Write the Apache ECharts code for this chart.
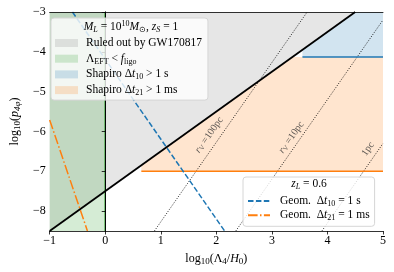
<!DOCTYPE html>
<html><head><meta charset="utf-8">
<script src="https://cdn.jsdelivr.net/npm/echarts@6/dist/echarts.min.js"></script>
<style>html,body{margin:0;padding:0;background:#fff}#c{width:394px;height:272px}</style>
</head><body><div id="c"></div>
<script>
// ---- data ----
const xTicks = [-1, 0, 1, 2, 3, 4, 5];
const yTicks = [-8, -7, -6, -5, -4, -3];
const gwRegion = [[-1, -8.5], [4.5, -3], [-1, -3]];
const eftRegion = [[-1, -8.5], [0, -8.5], [0, -3], [-1, -3]];
const shapiro10Region = [[3.55, -4.13], [5, -4.13], [5, -3], [4.5, -3], [3.55, -3.95]];
const shapiro21Region = [[0.65, -7], [5, -7], [5, -4.13], [3.37, -4.13], [0.65, -6.85]];
const gwLine = [[-1, -8.5], [4.5, -3]];
const eftLine = [[0, -8.5], [0, -3]];
const shapiro10Line = [[3.55, -4.13], [5, -4.13]];
const shapiro21Line = [[0.65, -7], [5, -7]];
const geom10Line = [[-0.59, -3], [2.15, -8.5]];
const geom21Line = [[-1, -5.71], [-0.32, -8.5]];
const rv100Line = [[0.885, -8.5], [3.635, -3]];
const rv10Line = [[2.35, -8.5], [5, -3.2]];
const rv1Line = [[3.9, -8.5], [5, -6.3]];
const rvLabelPos = [[1.87, -6.09], [3.35, -6.15], [4.73, -6.44]];
const rvLabelText = ['{i|r}{sub|V} =100pc', '{i|r}{sub|V} =10pc', '1pc'];

// ---- styles ----
const FF = 'Liberation Serif';
function richSet(fs, lh) {
  const s = Math.round(fs * 0.72);
  return {
    i: {fontFamily: FF, fontStyle: 'italic', fontSize: fs, lineHeight: lh},
    sub: {fontFamily: FF, fontSize: s, lineHeight: s, verticalAlign: 'bottom'},
    isub: {fontFamily: FF, fontStyle: 'italic', fontSize: s, lineHeight: s, verticalAlign: 'bottom'},
    sup: {fontFamily: FF, fontSize: s, lineHeight: s, verticalAlign: 'top'}
  };
}
const names = {
  gw: 'Ruled out by GW170817',
  eft: 'Λ_EFT < f_ligo',
  s10: 'Shapiro Δt_10 > 1 s',
  s21: 'Shapiro Δt_21 > 1 ms',
  g10: 'Geom. Δt_10 = 1 s',
  g21: 'Geom. Δt_21 = 1 ms'
};
const richLabels = {};
richLabels[names.gw] = 'Ruled out by GW170817';
richLabels[names.eft] = 'Λ{sub|EFT} < {i|f}{sub|ligo}';
richLabels[names.s10] = 'Shapiro Δ{i|t}{sub|10} > 1 s';
richLabels[names.s21] = 'Shapiro Δ{i|t}{sub|21} > 1 ms';
richLabels[names.g10] = 'Geom.  Δ{i|t}{sub|10} = 1 s';
richLabels[names.g21] = 'Geom.  Δ{i|t}{sub|21} = 1 ms';

const C = {
  gray: 'rgba(128,128,128,0.2)', green: 'rgba(44,160,44,0.2)',
  blue: 'rgba(31,119,180,0.2)', orange: 'rgba(255,127,14,0.2)'
};

function polySeries(name, pts, color) {
  return {
    name, type: 'custom', coordinateSystem: 'cartesian2d', data: pts, encode: {x: 0, y: 1},
    z: 1, silent: true, itemStyle: {color},
    renderItem: (params, api) => {
      if (params.dataIndex !== 0) return null;
      return {type: 'polygon', shape: {points: pts.map(p => api.coord(p))}, style: {fill: color}};
    }
  };
}
function lineSeries(name, pts, color, width, type, z) {
  return {
    name, type: 'line', data: pts, symbol: 'none', showSymbol: false, silent: true,
    lineStyle: {color, width, type}, itemStyle: {color}, z: z || 3
  };
}
const fmt = v => (v < 0 ? '\u2212' : '') + Math.abs(v);

const chart = echarts.init(document.getElementById('c'), null, {renderer: 'canvas'});
const option = {
  animation: false,
  backgroundColor: '#fff',
  grid: {left: 45, top: 12, right: 11, bottom: 41},
  xAxis: [{
    type: 'value', min: -1, max: 5, interval: 1,
    axisLine: {lineStyle: {color: '#000', width: 0.8}}, z: 10,
    axisTick: {inside: false, length: 3.5, lineStyle: {color: '#000', width: 0.8}, customValues: xTicks},
    axisLabel: {customValues: xTicks, formatter: fmt, color: '#000', fontFamily: FF, fontSize: 12, margin: 4},
    splitLine: {show: false},
    name: 'log{sub|10}(Λ{sub|4}/{i|H}{sub|0})', nameLocation: 'middle', nameGap: 18,
    nameTextStyle: {color: '#000', fontFamily: FF, fontSize: 12, lineHeight: 14, rich: richSet(12, 14)}
  }, {
    type: 'value', min: -1, max: 5, position: 'top', z: 10,
    axisLine: {lineStyle: {color: '#000', width: 0.8}}, axisTick: {show: false},
    axisLabel: {show: false}, splitLine: {show: false}
  }],
  yAxis: [{
    type: 'value', min: -8.5, max: -3,
    axisLine: {lineStyle: {color: '#000', width: 0.8}}, z: 10,
    axisTick: {inside: false, length: 3.5, lineStyle: {color: '#000', width: 0.8}, customValues: yTicks},
    axisLabel: {customValues: yTicks, formatter: fmt, color: '#000', fontFamily: FF, fontSize: 12, margin: 4},
    splitLine: {show: false},
    name: 'log{sub|10}({i|p}{isub|4φ})', nameLocation: 'middle', nameGap: 27,
    nameTextStyle: {color: '#000', fontFamily: FF, fontSize: 12, lineHeight: 14, rich: richSet(12, 14)}
  }, {
    type: 'value', min: -8.5, max: -3, position: 'right', z: 10,
    axisLine: {lineStyle: {color: '#000', width: 0.8}}, axisTick: {show: false},
    axisLabel: {show: false}, splitLine: {show: false}
  }],
  legend: [{
    orient: 'vertical', left: 51, top: 18, padding: [18, 6, 3, 4], itemGap: 1.7,
    itemWidth: 23, itemHeight: 8, selectedMode: false, z: 20,
    backgroundColor: 'rgba(255,255,255,0.8)', borderColor: '#d6d6d6', borderWidth: 1, borderRadius: 3,
    data: [
      {name: names.gw, icon: 'rect', itemStyle: {color: C.gray}},
      {name: names.eft, icon: 'rect', itemStyle: {color: C.green}},
      {name: names.s10, icon: 'rect', itemStyle: {color: C.blue}},
      {name: names.s21, icon: 'rect', itemStyle: {color: C.orange}}
    ],
    formatter: n => richLabels[n],
    textStyle: {color: '#000', fontFamily: FF, fontSize: 11.5, lineHeight: 14, padding: [0, 0, 0, 3], rich: richSet(11.5, 14)}
  }, {
    orient: 'vertical', left: 243, top: 177, padding: [17, 5, 4, 4], itemGap: 0.3,
    itemWidth: 22, itemHeight: 8, selectedMode: false, z: 20,
    backgroundColor: 'rgba(255,255,255,0.8)', borderColor: '#d6d6d6', borderWidth: 1, borderRadius: 3,
    itemStyle: {opacity: 0, borderWidth: 0},
    data: [names.g10, names.g21],
    formatter: n => richLabels[n],
    textStyle: {color: '#000', fontFamily: FF, fontSize: 11.5, lineHeight: 14, padding: [0, 0, 0, 5], rich: richSet(11.5, 14)}
  }],
  graphic: [{
    type: 'text', x: 131, y: 27, z: 100,
    style: {text: '{i|M}{isub|L} = 10{sup|10}{i|M}{sub|⊙}, {i|z}{isub|S} = 1', align: 'center', verticalAlign: 'middle',
      fill: '#000', fontFamily: FF, fontSize: 11.5, lineHeight: 14, rich: richSet(11.5, 14)}
  }, {
    type: 'text', x: 309, y: 184, z: 100,
    style: {text: '{i|z}{isub|L} = 0.6', align: 'center', verticalAlign: 'middle',
      fill: '#000', fontFamily: FF, fontSize: 11.5, lineHeight: 14, rich: richSet(11.5, 14)}
  }],
  series: [
    polySeries(names.gw, gwRegion, C.gray),
    polySeries(names.eft, eftRegion, C.green),
    polySeries(names.s10, shapiro10Region, C.blue),
    polySeries(names.s21, shapiro21Region, C.orange),
    lineSeries('rv100', rv100Line, 'rgba(0,0,0,0.85)', 1, [1, 1.6], 2),
    lineSeries('rv10', rv10Line, 'rgba(0,0,0,0.85)', 1, [1, 1.6], 2),
    lineSeries('rv1', rv1Line, 'rgba(0,0,0,0.85)', 1, [1, 1.6], 2),
    lineSeries('eftLine', eftLine, '#2ca02c', 1.5, 'solid'),
    lineSeries('s10Line', shapiro10Line, '#1f77b4', 1.5, 'solid'),
    lineSeries('s21Line', shapiro21Line, '#ff7f0e', 1.5, 'solid'),
    lineSeries(names.g10, geom10Line, '#1f77b4', 1.5, [5.5, 2.4]),
    lineSeries(names.g21, geom21Line, '#ff7f0e', 1.5, [9.6, 2.4, 1.5, 2.4]),
    lineSeries('gwLine', gwLine, '#000', 1.8, 'solid', 4),
    {
      name: 'rvLabels', type: 'scatter', silent: true, symbolSize: 0, itemStyle: {color: 'rgba(0,0,0,0)'}, z: 5,
      data: rvLabelPos,
      label: {
        show: true, position: 'inside', rotate: 54.7, formatter: p => rvLabelText[p.dataIndex],
        color: '#333', fontFamily: FF, fontSize: 10, lineHeight: 11, rich: richSet(10, 11)
      }
    }
  ]
};
chart.setOption(option);
</script></body></html>
